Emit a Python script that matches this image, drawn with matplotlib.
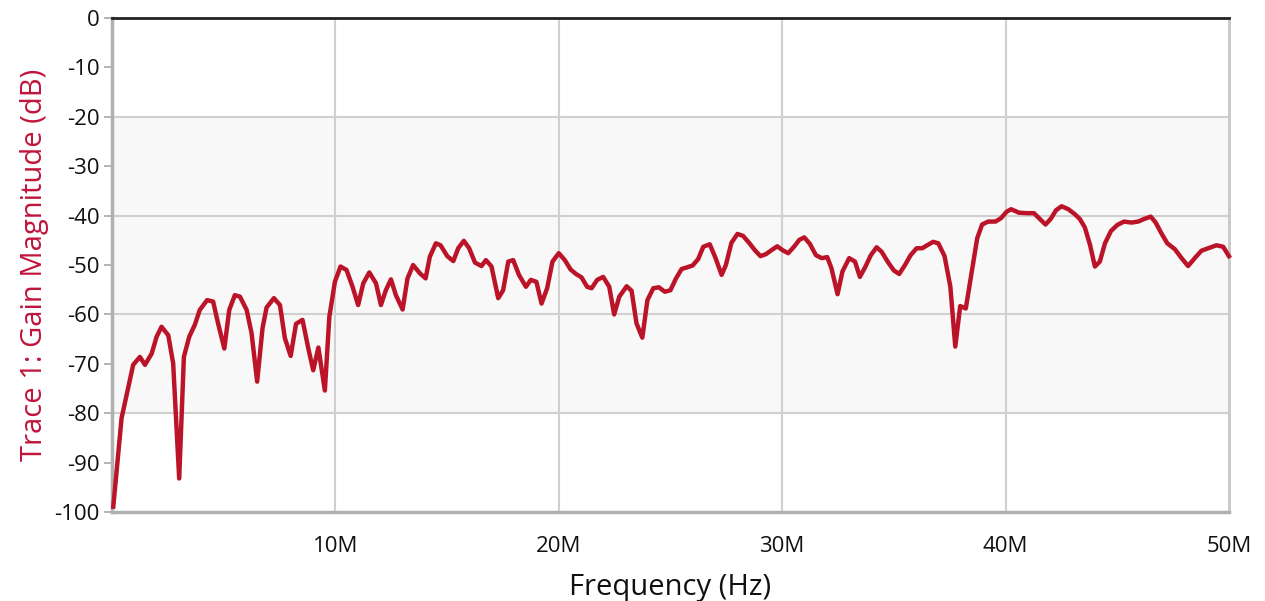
import matplotlib
matplotlib.use("Agg")
import matplotlib.pyplot as plt
from matplotlib.ticker import FuncFormatter, MultipleLocator

# Trace 1 gain magnitude (frequency in MHz, gain in dB)
freq_mhz = [0.06, 0.43, 0.95, 1.25, 1.48, 1.78, 2.0, 2.22, 2.52, 2.74, 3.01, 3.22,
            3.46, 3.71, 3.93, 4.26, 4.53, 4.75, 5.03, 5.25, 5.5, 5.73, 6.03, 6.25,
            6.5, 6.74, 6.92, 7.25, 7.52, 7.74, 8.0, 8.24, 8.53, 8.79, 9.01, 9.24,
            9.53, 9.73, 9.98, 10.23, 10.5, 10.77, 11.02, 11.25, 11.52, 11.82, 12.04,
            12.26, 12.49, 12.71, 13.01, 13.23, 13.48, 13.79, 14.04, 14.23, 14.5,
            14.71, 15.01, 15.28, 15.5, 15.75, 15.99, 16.25, 16.54, 16.74, 16.99,
            17.29, 17.51, 17.74, 17.96, 18.22, 18.53, 18.75, 19.0, 19.23, 19.48,
            19.72, 20.0, 20.27, 20.53, 20.77, 21.02, 21.27, 21.47, 21.72, 21.99,
            22.26, 22.48, 22.71, 23.04, 23.26, 23.48, 23.74, 23.97, 24.23, 24.48,
            24.75, 25.0, 25.25, 25.5, 25.72, 25.99, 26.24, 26.47, 26.76, 27.02,
            27.29, 27.48, 27.73, 28.0, 28.25, 28.52, 28.78, 29.03, 29.27, 29.52,
            29.78, 30.02, 30.27, 30.53, 30.77, 30.99, 31.24, 31.51, 31.77, 32.02,
            32.21, 32.48, 32.7, 33.0, 33.26, 33.48, 33.73, 33.97, 34.23, 34.45,
            34.75, 35.0, 35.24, 35.5, 35.75, 36.02, 36.27, 36.49, 36.76, 36.99,
            37.27, 37.53, 37.75, 37.97, 38.22, 38.48, 38.73, 38.95, 39.22, 39.55,
            39.8, 40.05, 40.25, 40.6, 40.94, 41.27, 41.54, 41.79, 42.03, 42.26,
            42.51, 42.81, 43.1, 43.33, 43.55, 43.78, 44.0, 44.22, 44.45, 44.72,
            45.0, 45.3, 45.64, 45.94, 46.19, 46.5, 46.72, 46.98, 47.24, 47.58,
            47.88, 48.17, 48.47, 48.77, 49.07, 49.44, 49.74, 50.0]
gain_db = [-98.9, -81.0, -70.2, -68.6, -70.2, -67.9, -64.5, -62.5, -64.2, -69.9, -93.2, -68.6,
           -64.5, -62.1, -59.1, -57.1, -57.4, -61.8, -66.9, -59.1, -56.1, -56.4, -59.1, -63.8,
           -73.6, -62.8, -58.6, -56.7, -58.1, -64.8, -68.4, -61.9, -61.1, -66.9, -71.3, -66.7,
           -75.4, -60.5, -53.4, -50.3, -51.0, -54.4, -58.1, -53.7, -51.5, -53.7, -58.1,
           -55.1, -52.9, -56.1, -59.0, -52.7, -50.0, -51.7, -52.7, -48.3, -45.6,
           -46.0, -48.2, -49.2, -46.6, -45.1, -46.6, -49.5, -50.2, -49.0, -50.3,
           -56.7, -55.1, -49.3, -49.0, -52.0, -54.4, -53.0, -53.4, -57.8, -54.7,
           -49.3, -47.6, -49.0, -50.9, -51.8, -52.5, -54.4, -54.7, -53.0, -52.4,
           -54.4, -60.0, -56.4, -54.3, -55.2, -61.8, -64.7, -57.1, -54.7, -54.5,
           -55.4, -55.1, -52.7, -50.8, -50.5, -50.1, -48.8, -46.3, -45.8, -48.6,
           -52.0, -50.0, -45.5, -43.7, -44.1, -45.5, -47.0, -48.2, -47.8, -47.0,
           -46.2, -47.0, -47.6, -46.3, -44.9, -44.4, -45.7, -48.0, -48.6, -48.4,
           -50.7, -55.9, -51.3, -48.6, -49.3, -52.4, -50.3, -48.0, -46.4, -47.3,
           -49.5, -51.1, -51.8, -50.0, -48.0, -46.6, -46.6, -46.0, -45.3, -45.6,
           -48.2, -54.4, -66.5, -58.3, -58.8, -51.5, -44.6, -41.8, -41.2, -41.2,
           -40.5, -39.2, -38.7, -39.4, -39.5, -39.5, -40.7, -41.8, -40.6, -38.9,
           -38.1, -38.7, -39.7, -40.7, -42.4, -45.9, -50.3, -49.3, -45.6, -43.1,
           -41.9, -41.2, -41.4, -41.2, -40.7, -40.2, -41.4, -43.6, -45.6, -46.8,
           -48.6, -50.2, -48.6, -47.1, -46.6, -46.0, -46.3, -48.2]

x_ticks = [10, 20, 30, 40, 50]
x_tick_labels = ["10M", "20M", "30M", "40M", "50M"]

plt.rcParams["font.family"] = ["Open Sans", "DejaVu Sans"]

fig = plt.figure(figsize=(12.65, 6.01), dpi=100)
ax = fig.add_axes([0.0885, 0.148, 0.883, 0.822])

# shaded band between -20 and -80 dB
ax.axhspan(-80, -20, color="#f8f8f8", zorder=0)

ax.plot(freq_mhz, gain_db, color="#bb1429", linewidth=3.2, zorder=3,
        solid_joinstyle="round", clip_on=False)

ax.set_xlim(0, 50)
ax.set_ylim(-100, 0)
ax.set_xticks(x_ticks)
ax.set_xticklabels(x_tick_labels)
ax.yaxis.set_major_locator(MultipleLocator(10))
ax.yaxis.set_major_formatter(FuncFormatter(lambda v, p: "%d" % v))

# grid: vertical at each 10M, horizontal every 20 dB
for xv in x_ticks[:-1]:
    ax.axvline(xv, color="#d0d0d0", linewidth=1.5, zorder=1)
for yv in [-20, -40, -60, -80]:
    ax.axhline(yv, color="#d0d0d0", linewidth=1.5, zorder=1)

ax.tick_params(axis="y", length=6, width=1.2, color="#a8a8a8", labelsize=16,
               labelcolor="#111111", pad=3)
ax.tick_params(axis="x", length=0, labelsize=16, labelcolor="#111111", pad=17)

for side in ["left", "bottom"]:
    ax.spines[side].set_color("#b0b0b0")
    ax.spines[side].set_linewidth(2.5)
ax.spines["right"].set_color("#c8c8c8")
ax.spines["right"].set_linewidth(2)
ax.spines["top"].set_color("#222222")
ax.spines["top"].set_linewidth(2)

ax.set_xlabel("Frequency (Hz)", fontsize=21, color="#111111", labelpad=12)
ax.set_ylabel("Trace 1: Gain Magnitude (dB)", fontsize=21, color="#c0143c", labelpad=4)

fig.savefig("out.png", dpi=100)
